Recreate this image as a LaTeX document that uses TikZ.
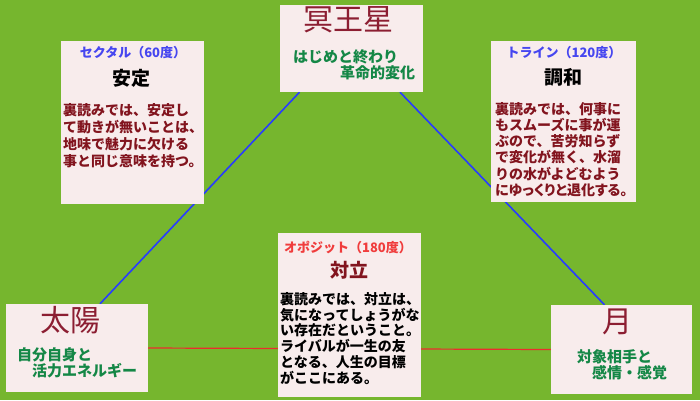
\documentclass[tikz,border=0pt]{standalone}
\usepackage{fontspec}
\usetikzlibrary{backgrounds,positioning}
\newfontfamily\jp{Noto Sans CJK JP}
\definecolor{bggreen}{RGB}{118,182,46}
\definecolor{cardpink}{RGB}{248,236,236}
\definecolor{planetred}{RGB}{140,30,50}
\definecolor{keygreen}{RGB}{20,135,70}
\definecolor{aspblue}{RGB}{70,70,240}
\definecolor{aspred}{RGB}{240,60,60}
\definecolor{notered}{RGB}{130,20,30}
\definecolor{lineblue}{RGB}{40,60,255}
\definecolor{linered}{RGB}{235,45,45}

\begin{document}
\begin{tikzpicture}[
        x=1pt,y=-1pt,
        card/.style={fill=cardpink,inner sep=0pt},
        planet/.style={font=\jp\fontsize{30}{30}\selectfont,text=planetred,inner sep=0pt},
        keyword/.style={font=\jp\bfseries\fontsize{15}{16}\selectfont,text=keygreen,inner sep=0pt,align=left,anchor=north west},
        aspect/.style={font=\jp\bfseries\fontsize{13}{13}\selectfont,inner sep=0pt},
        aspectname/.style={font=\jp\bfseries\fontsize{19}{19}\selectfont,inner sep=0pt},
        note/.style={font=\jp\bfseries\fontsize{14}{#1}\selectfont,inner sep=0pt,align=left,anchor=north west},
        note/.default=16.2,
        trine/.style={draw=lineblue,line width=1.6pt},
        opposite/.style={draw=linered,line width=1.2pt}
      ]
      \begin{scope}[on background layer]
        \fill[bggreen] (0,0) rectangle (700,400);
      \end{scope}
      \useasboundingbox (0,0) rectangle (700,400);

      \node (meiou) [card,minimum width=143pt,minimum height=87pt] at (351.5,48.5) {};
      \node (sextile) [card,minimum width=143pt,minimum height=163pt] at (132.5,122.5) {};
      \node (trine) [card,minimum width=145pt,minimum height=161pt] at (563.5,121.5) {};
      \node (opposition) [card,minimum width=143pt,minimum height=164pt] at (349.5,315) {};
      \node (taiyo) [card,minimum width=142pt,minimum height=88pt] at (77,348) {};
      \node (tsuki) [card,minimum width=141pt,minimum height=89pt] at (621.5,349.5) {};

      \node (meiouname) [planet] at (348,20) {冥王星};
      \node (meiouword) [keyword] at (293,49) {はじめと終わり\\\hspace*{47pt}革命的変化};

      \node (taiyoname) [planet] at (70,320) {太陽};
      \node (taiyoword) [keyword] at (17,347) {自分自身と\\\hspace*{15pt}活力エネルギー};

      \node (tsukiname) [planet] at (617,322) {月};
      \node (tsukiword) [keyword] at (577,349) {対象相手と\\\hspace*{15pt}感情・感覚};

      \node (sextilehead) [aspect,text=aspblue] at (133,53) {セクタル（60度）};
      \node (sextilename) [aspectname] at (131,78) {安定};
      \node (sextilenote) [note=17,text=notered] at (63,103) {裏読みでは、安定し\\て動きが無いことは、\\地味で魅力に欠ける\\事と同じ意味を持つ。};

      \node (trinehead) [aspect,text=aspblue] at (564,53) {トライン（120度）};
      \node (trinename) [aspectname] at (563,77) {調和};
      \node (trinenote) [note,text=notered] at (495,102) {裏読みでは、何事に\\もスムーズに事が運\\ぶので、苦労知らず\\で変化が無く、水溜\\りの水がよどむよう\\{\addfontfeatures{RawFeature=+palt}にゆっくりと退化する。}};

      \node (oppohead) [aspect,text=aspred] at (348,247) {オポジット（180度）};
      \node (opponame) [aspectname,text=notered] at (349,270) {対立};
      \node (opponote) [note=15.8] at (280,292) {裏読みでは、対立は、\\気になってしょうがな\\い存在だということ。\\ライバルが一生の友\\となる、人生の目標\\がここにある。};

      \begin{scope}[on background layer]
        \draw[trine] ([xshift=23pt]taiyo.north) -- ([xshift=-52pt]meiou.south);
        \draw[trine] ([xshift=48.5pt]meiou.south) -- ([xshift=-17pt]tsuki.north);
        \draw[opposite] (taiyo.east) -- (tsuki.west);
      \end{scope}
    \end{tikzpicture}
\end{document}
